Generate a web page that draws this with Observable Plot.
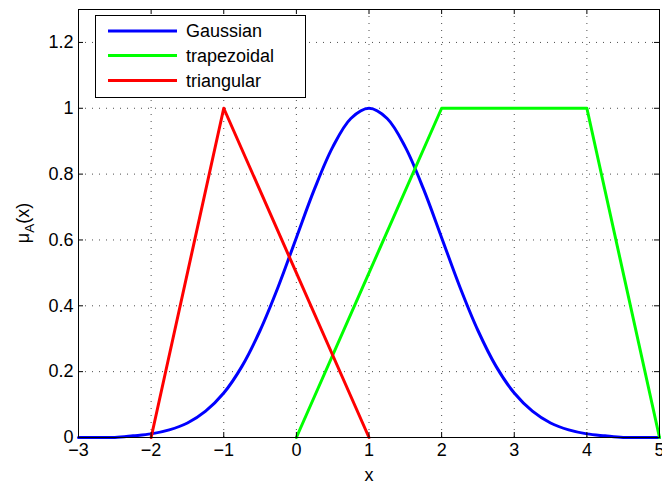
<!DOCTYPE html>
<html>
<head>
<meta charset="utf-8">
<script src="https://cdn.jsdelivr.net/npm/d3@7"></script>
<script src="https://cdn.jsdelivr.net/npm/@observablehq/plot@0.6"></script>
<style>
  body { margin: 0; background: #fff; }
  svg { display: block; }
</style>
</head>
<body>
<div id="chart"></div>
<script>
// Membership functions sampled along x
const gaussX = [-3, -2.75, -2.5, -2.25, -2, -1.75, -1.5, -1.25, -1, -0.75, -0.5, -0.25, 0, 0.25, 0.5, 0.75, 1,
                1.25, 1.5, 1.75, 2, 2.25, 2.5, 2.75, 3, 3.25, 3.5, 3.75, 4, 4.25, 4.5, 4.75, 5];
const gaussY = [0, 0, 0, 0.005, 0.011, 0.023, 0.044, 0.08, 0.135, 0.216, 0.325, 0.458, 0.607, 0.755, 0.882, 0.969, 1,
                0.969, 0.882, 0.755, 0.607, 0.458, 0.325, 0.216, 0.135, 0.08, 0.044, 0.023, 0.011, 0.005, 0, 0, 0];
const trapX = [0, 2, 4, 5];
const trapY = [0, 1, 1, 0];
const triX = [-2, -1, 1];
const triY = [0, 1, 0];

const seriesNames = ["Gaussian", "trapezoidal", "triangular"];
const seriesColors = ["#0000ff", "#00ff00", "#ff0000"];

const xTicks = [-3, -2, -1, 0, 1, 2, 3, 4, 5];
const yTicks = [0, 0.2, 0.4, 0.6, 0.8, 1, 1.2];

const W = 662, H = 483;
const mL = 78, mR = 3, mT = 9, mB = 46;
const plotW = W - mL - mR, plotH = H - mT - mB;
const FONT = "'Liberation Sans', Arial, Helvetica, sans-serif";
const FS = 18;

const toRows = (xs, ys) => xs.map((x, i) => ({x, y: ys[i]}));
const gauss = toRows(gaussX, gaussY);
const trap = toRows(trapX, trapY);
const tri = toRows(triX, triY);

const fmt = d => d < 0 ? "\u2212" + (-d) : String(d);
const tickLen = 5;
const dots = {stroke: "#000", strokeOpacity: 0.7, strokeDasharray: "1,6"};

const chart = Plot.plot({
  width: W, height: H,
  marginLeft: mL, marginRight: mR, marginTop: mT, marginBottom: mB,
  style: {fontFamily: FONT, fontSize: FS + "px", background: "#fff", color: "#000"},
  x: {domain: [-3, 5]},
  y: {domain: [0, 1.3]},
  marks: [
    Plot.gridX(xTicks, dots),
    Plot.gridY(yTicks, dots),
    Plot.line(gauss, {x: "x", y: "y", stroke: seriesColors[0], strokeWidth: 3, curve: "catmull-rom"}),
    Plot.line(trap, {x: "x", y: "y", stroke: seriesColors[1], strokeWidth: 3}),
    Plot.line(tri, {x: "x", y: "y", stroke: seriesColors[2], strokeWidth: 3}),
    Plot.frame({stroke: "#000", strokeWidth: 1}),
    // inward tick marks on all four sides
    Plot.tickX(xTicks, {x: d => d, insetTop: plotH - tickLen, stroke: "#000"}),
    Plot.tickX(xTicks, {x: d => d, insetBottom: plotH - tickLen, stroke: "#000"}),
    Plot.tickY(yTicks, {y: d => d, insetRight: plotW - tickLen, stroke: "#000"}),
    Plot.tickY(yTicks, {y: d => d, insetLeft: plotW - tickLen, stroke: "#000"}),
    Plot.axisX(xTicks, {tickSize: 0, tickPadding: 6, fontSize: FS, tickFormat: fmt, label: null}),
    Plot.axisY(yTicks, {tickSize: 0, tickPadding: 5, fontSize: FS, tickFormat: d => String(d), label: null}),
    Plot.text(["x"], {frameAnchor: "bottom", dy: 38, fontSize: FS, lineAnchor: "middle"})
  ]
});

document.getElementById("chart").appendChild(chart);

const svg = d3.select(chart);

// y-axis label: mu with subscript A
const yl = svg.append("text")
  .attr("transform", `translate(29,${mT + plotH / 2}) rotate(-90)`)
  .attr("text-anchor", "middle")
  .attr("font-family", FONT)
  .attr("font-size", FS)
  .attr("fill", "#000");
yl.append("tspan").text("\u03bc");
yl.append("tspan").attr("font-size", FS * 0.75).attr("dy", 5).text("A");
yl.append("tspan").attr("dy", -5).text("(x)");

// legend box
const lg = svg.append("g")
  .attr("font-family", FONT)
  .attr("font-size", FS)
  .attr("text-anchor", "start");
lg.append("rect")
  .attr("x", 95.5).attr("y", 15.5).attr("width", 210).attr("height", 82)
  .attr("fill", "#fff").attr("stroke", "#000");
const rowY = [31, 55.5, 80.5];
seriesNames.forEach((name, i) => {
  lg.append("line")
    .attr("x1", 108).attr("x2", 177)
    .attr("y1", rowY[i]).attr("y2", rowY[i])
    .attr("stroke", seriesColors[i]).attr("stroke-width", 3);
  lg.append("text")
    .attr("x", 186).attr("y", rowY[i]).attr("dy", "0.35em")
    .attr("text-anchor", "start")
    .attr("fill", "#000")
    .text(name);
});
</script>
</body>
</html>
